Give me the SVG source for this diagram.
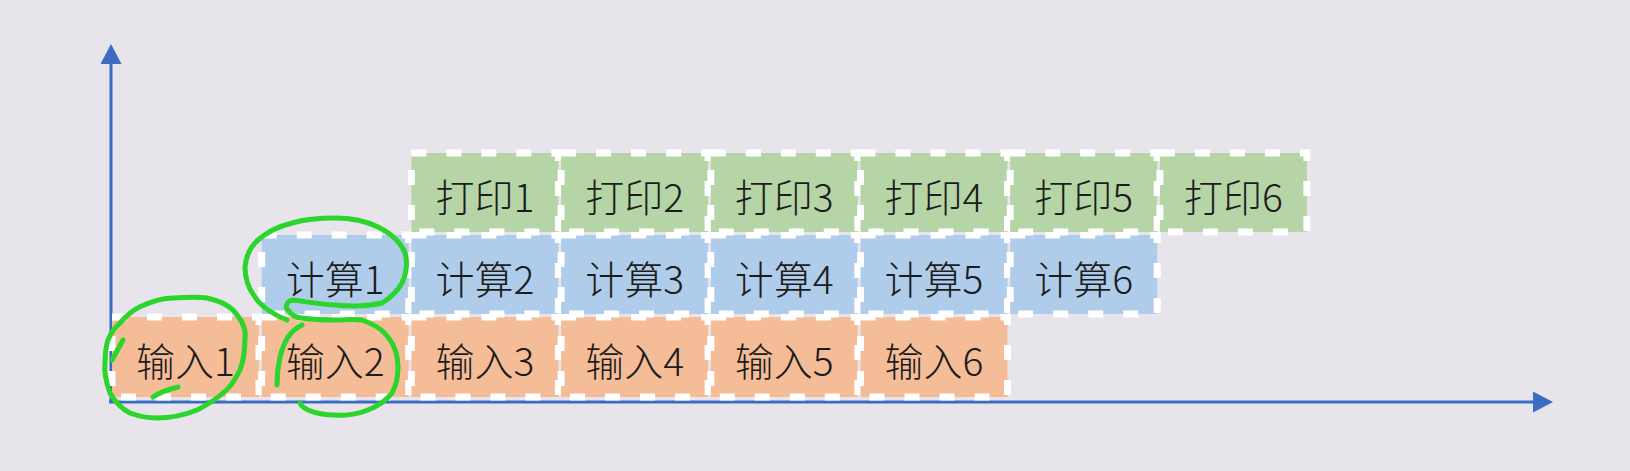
<svg xmlns="http://www.w3.org/2000/svg" width="1630" height="471" viewBox="0 0 1630 471">
<defs>
<style>
.box{stroke:#ffffff;stroke-width:7;stroke-dasharray:15 20;}
.in{fill:#F5BC98;}
.cp{fill:#AFCCEA;}
.pr{fill:#B6D5A6;}
.t{font-family:"Noto Sans CJK SC","Noto Sans",sans-serif;font-weight:300;font-size:39px;fill:#1c1c1c;text-anchor:middle;dominant-baseline:central;}
.axis{stroke:#3A6CC2;stroke-width:3;fill:none;}
.mark{stroke:#2BD52B;stroke-width:5;fill:none;stroke-linecap:round;stroke-linejoin:round;}
</style>
<marker id="ah" viewBox="0 0 20 21" refX="0" refY="10.5" markerWidth="20" markerHeight="21" markerUnits="userSpaceOnUse" orient="auto">
<path d="M0,0 L20,10.5 L0,21 Z" fill="#3A6CC2"/>
</marker>
</defs>
<rect x="0" y="0" width="1630" height="471" fill="#E7E5EB"/>

<g id="connectors">
<line class="axis" x1="111" y1="403" x2="111" y2="64" marker-end="url(#ah)"/>
<line class="axis" x1="109" y1="402" x2="1533" y2="402" marker-end="url(#ah)"/>
</g>

<g id="input1"><rect class="box in" x="112" y="317" width="147" height="80"/><text class="t" x="185.5" y="359">输入1</text></g>
<g id="input2"><rect class="box in" x="261.7" y="317" width="147" height="80"/><text class="t" x="335.2" y="359">输入2</text></g>
<g id="input3"><rect class="box in" x="411.4" y="317" width="147" height="80"/><text class="t" x="484.9" y="359">输入3</text></g>
<g id="input4"><rect class="box in" x="561.1" y="317" width="147" height="80"/><text class="t" x="634.6" y="359">输入4</text></g>
<g id="input5"><rect class="box in" x="710.8" y="317" width="147" height="80"/><text class="t" x="784.3" y="359">输入5</text></g>
<g id="input6"><rect class="box in" x="860.5" y="317" width="147" height="80"/><text class="t" x="934" y="359">输入6</text></g>

<g id="compute1"><rect class="box cp" x="261.7" y="235" width="147" height="79"/><text class="t" x="335.2" y="276.5">计算1</text></g>
<g id="compute2"><rect class="box cp" x="411.4" y="235" width="147" height="79"/><text class="t" x="484.9" y="276.5">计算2</text></g>
<g id="compute3"><rect class="box cp" x="561.1" y="235" width="147" height="79"/><text class="t" x="634.6" y="276.5">计算3</text></g>
<g id="compute4"><rect class="box cp" x="710.8" y="235" width="147" height="79"/><text class="t" x="784.3" y="276.5">计算4</text></g>
<g id="compute5"><rect class="box cp" x="860.5" y="235" width="147" height="79"/><text class="t" x="934" y="276.5">计算5</text></g>
<g id="compute6"><rect class="box cp" x="1010.2" y="235" width="147" height="79"/><text class="t" x="1083.7" y="276.5">计算6</text></g>

<g id="print1"><rect class="box pr" x="411.4" y="153" width="147" height="79"/><text class="t" x="484.9" y="194.5">打印1</text></g>
<g id="print2"><rect class="box pr" x="561.1" y="153" width="147" height="79"/><text class="t" x="634.6" y="194.5">打印2</text></g>
<g id="print3"><rect class="box pr" x="710.8" y="153" width="147" height="79"/><text class="t" x="784.3" y="194.5">打印3</text></g>
<g id="print4"><rect class="box pr" x="860.5" y="153" width="147" height="79"/><text class="t" x="934" y="194.5">打印4</text></g>
<g id="print5"><rect class="box pr" x="1010.2" y="153" width="147" height="79"/><text class="t" x="1083.7" y="194.5">打印5</text></g>
<g id="print6"><rect class="box pr" x="1159.9" y="153" width="147" height="79"/><text class="t" x="1233.4" y="194.5">打印6</text></g>

<g id="annotations">
<path class="mark" d="M123,340 L112,360"/>
<path class="mark" d="M140,306.7 C155,300 165,298 173,298 C190,297 200,297 207,298 C220,301 228,305 233,310 C242,320 246,330 245,337 C245,350 243,362 240,370 C235,380 230,388 223,393 C214,401 205,406 197,410 C182,416 168,418 157,418 C146,418 138,416 130,413 C120,408 114,400 110,393 C106,382 104,372 105,363 C105,354 106,346 108,340 C111,333 115,327 120,323 C126,316 133,310 140,306.7"/>
<path class="mark" d="M153,397 C160,392 170,389 178,387"/>
<path class="mark" d="M287,320 C275,315 262,308 255,297 C248,288 245,277 245,267 C246,256 250,247 258,240 C268,231 280,226 292,223 C306,219 320,218 335,218 C352,218 366,221 378,227 C392,234 401,243 405,253 C408,263 406,274 402,283 C397,292 390,298 382,303 C366,307 350,306 335,305 C318,304 302,301 292,300 C286,302 285,308 288,310 C292,316 296,318 302,318 C315,320 325,320 335,320 C345,320 353,319 362,320 C374,324 383,330 388,337 C395,346 398,356 398,367 C398,378 396,386 392,393 C386,401 378,406 368,410 C358,414 346,416 335,415 C325,415 315,413 308,410 C304,408 301,406 300,403"/>
<path class="mark" d="M277,385 C277,375 278,366 280,357 C282,349 285,342 288,337 C292,331 296,328 302,325"/>
</g>
</svg>
